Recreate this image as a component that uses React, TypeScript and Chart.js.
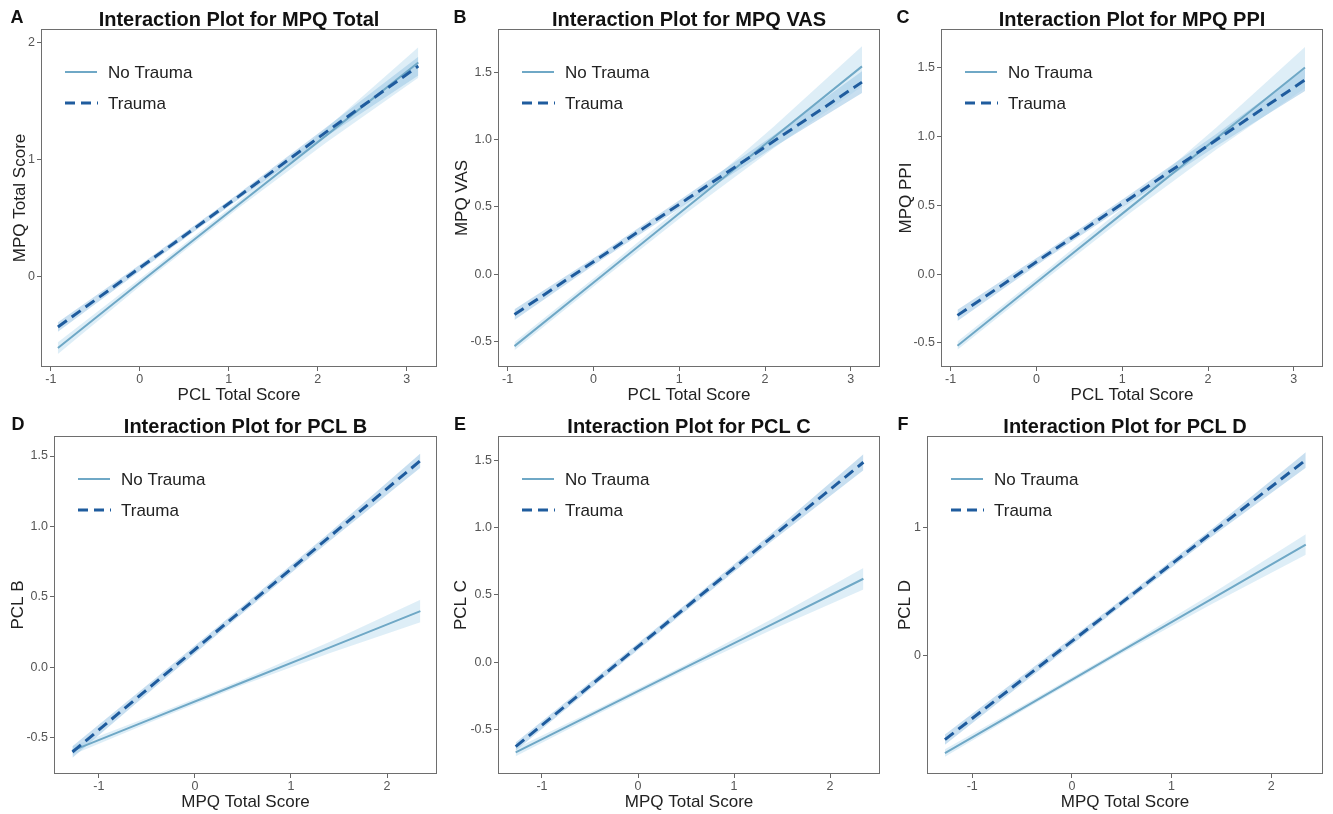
import React, { useEffect, useRef } from "react";
import { Chart, registerables } from "chart.js";

Chart.register(...registerables);

// ---------- Data ----------
// x positions where lines / confidence ribbons were read
const xsTop = [-0.92, 0.1, 1.1, 2.1, 3.13];
const xsBottom = [-1.274, -0.4, 0.5, 1.4, 2.347];

// Panel A: MPQ Total vs PCL Total Score
const ntA = [-0.61, 0.01, 0.61, 1.21, 1.83];
const ntLoA = [-0.66, -0.02, 0.58, 1.15, 1.7];
const ntHiA = [-0.56, 0.04, 0.64, 1.27, 1.96];
const tA = [-0.43, 0.13, 0.68, 1.24, 1.8];
const tLoA = [-0.47, 0.105, 0.655, 1.2, 1.72];
const tHiA = [-0.39, 0.155, 0.705, 1.28, 1.88];

// Panel B: MPQ VAS
const ntB = [-0.535, -0.011, 0.503, 1.017, 1.545];
const ntLoB = [-0.565, -0.041, 0.463, 0.937, 1.395];
const ntHiB = [-0.505, 0.019, 0.543, 1.097, 1.695];
const tB = [-0.3, 0.135, 0.562, 0.988, 1.428];
const tLoB = [-0.34, 0.11, 0.532, 0.943, 1.348];
const tHiB = [-0.26, 0.16, 0.592, 1.033, 1.508];

// Panel C: MPQ PPI
const ntC = [-0.52, -0.011, 0.488, 0.987, 1.5];
const ntLoC = [-0.55, -0.041, 0.448, 0.907, 1.35];
const ntHiC = [-0.49, 0.019, 0.528, 1.067, 1.65];
const tC = [-0.3, 0.131, 0.553, 0.975, 1.41];
const tLoC = [-0.34, 0.106, 0.523, 0.93, 1.33];
const tHiC = [-0.26, 0.156, 0.583, 1.02, 1.49];

// Panel D: PCL B vs MPQ Total Score
const ntD = [-0.59, -0.351, -0.105, 0.141, 0.4];
const ntLoD = [-0.62, -0.371, -0.125, 0.101, 0.32];
const ntHiD = [-0.56, -0.331, -0.085, 0.181, 0.48];
const tD = [-0.6, -0.101, 0.412, 0.926, 1.467];
const tLoD = [-0.64, -0.131, 0.387, 0.896, 1.417];
const tHiD = [-0.56, -0.071, 0.437, 0.956, 1.517];

// Panel E: PCL C
const ntE = [-0.669, -0.358, -0.037, 0.283, 0.62];
const ntLoE = [-0.699, -0.378, -0.057, 0.243, 0.54];
const ntHiE = [-0.639, -0.338, -0.017, 0.323, 0.7];
const tE = [-0.627, -0.117, 0.408, 0.933, 1.485];
const tLoE = [-0.657, -0.142, 0.383, 0.903, 1.425];
const tHiE = [-0.597, -0.092, 0.433, 0.963, 1.545];

// Panel F: PCL D
const ntF = [-0.763, -0.37, 0.035, 0.44, 0.867];
const ntLoF = [-0.793, -0.39, 0.015, 0.4, 0.787];
const ntHiF = [-0.733, -0.35, 0.055, 0.48, 0.947];
const tF = [-0.658, -0.13, 0.413, 0.957, 1.528];
const tLoF = [-0.698, -0.16, 0.388, 0.927, 1.468];
const tHiF = [-0.618, -0.1, 0.438, 0.987, 1.588];

// Tick values and labels
const xTicksTop = [-1, 0, 1, 2, 3];
const xTickLabelsTop = ["-1", "0", "1", "2", "3"];
const xTicksBottom = [-1, 0, 1, 2];
const xTickLabelsBottom = ["-1", "0", "1", "2"];
const yTicksA = [0, 1, 2];
const yTickLabelsA = ["0", "1", "2"];
const yTicksHalf = [-0.5, 0, 0.5, 1, 1.5];
const yTickLabelsHalf = ["-0.5", "0.0", "0.5", "1.0", "1.5"];
const yTicksF = [0, 1];
const yTickLabelsF = ["0", "1"];

const seriesNames = ["No Trauma", "Trauma"];

// ---------- Styling ----------
const FONT = "'Liberation Sans', Arial, Helvetica, sans-serif";
const NT_COLOR = "#6fa8c6";
const T_COLOR = "#1f5c9e";
const NT_BAND = "rgba(160, 205, 232, 0.35)";
const T_BAND = "rgba(110, 170, 215, 0.38)";

type PanelCfg = {
  letter: string;
  title: string;
  xTitle: string;
  yTitle: string;
  xs: number[];
  nt: number[];
  ntLo: number[];
  ntHi: number[];
  t: number[];
  tLo: number[];
  tHi: number[];
  xMin: number;
  xMax: number;
  yMin: number;
  yMax: number;
  xTicks: number[];
  xLabels: string[];
  yTicks: number[];
  yLabels: string[];
  left: number;
  top: number;
  w: number;
  h: number;
  pl: number;
  pr: number;
  pt: number;
  pb: number;
  letterX: number;
  yTitleX: number;
};

const panels: PanelCfg[] = [
  {
    letter: "A", title: "Interaction Plot for MPQ Total", xTitle: "PCL Total Score", yTitle: "MPQ Total Score",
    xs: xsTop, nt: ntA, ntLo: ntLoA, ntHi: ntHiA, t: tA, tLo: tLoA, tHi: tHiA,
    xMin: -1.11, xMax: 3.34, yMin: -0.772, yMax: 2.117,
    xTicks: xTicksTop, xLabels: xTickLabelsTop, yTicks: yTicksA, yLabels: yTickLabelsA,
    left: 0, top: 0, w: 444, h: 407, pl: 41, pr: 437, pt: 29, pb: 367, letterX: 17, yTitleX: 20,
  },
  {
    letter: "B", title: "Interaction Plot for MPQ VAS", xTitle: "PCL Total Score", yTitle: "MPQ VAS",
    xs: xsTop, nt: ntB, ntLo: ntLoB, ntHi: ntHiB, t: tB, tLo: tLoB, tHi: tHiB,
    xMin: -1.112, xMax: 3.34, yMin: -0.69, yMax: 1.823,
    xTicks: xTicksTop, xLabels: xTickLabelsTop, yTicks: yTicksHalf, yLabels: yTickLabelsHalf,
    left: 444, top: 0, w: 444, h: 407, pl: 54, pr: 436, pt: 29, pb: 367, letterX: 16, yTitleX: 18,
  },
  {
    letter: "C", title: "Interaction Plot for MPQ PPI", xTitle: "PCL Total Score", yTitle: "MPQ PPI",
    xs: xsTop, nt: ntC, ntLo: ntLoC, ntHi: ntHiC, t: tC, tLo: tLoC, tHi: tHiC,
    xMin: -1.112, xMax: 3.34, yMin: -0.675, yMax: 1.78,
    xTicks: xTicksTop, xLabels: xTickLabelsTop, yTicks: yTicksHalf, yLabels: yTickLabelsHalf,
    left: 888, top: 0, w: 445, h: 407, pl: 53, pr: 435, pt: 29, pb: 367, letterX: 15, yTitleX: 18,
  },
  {
    letter: "D", title: "Interaction Plot for PCL B", xTitle: "MPQ Total Score", yTitle: "PCL B",
    xs: xsBottom, nt: ntD, ntLo: ntLoD, ntHi: ntHiD, t: tD, tLo: tLoD, tHi: tHiD,
    xMin: -1.466, xMax: 2.52, yMin: -0.756, yMax: 1.642,
    xTicks: xTicksBottom, xLabels: xTickLabelsBottom, yTicks: yTicksHalf, yLabels: yTickLabelsHalf,
    left: 0, top: 407, w: 444, h: 407, pl: 54, pr: 437, pt: 29, pb: 367, letterX: 18, yTitleX: 18,
  },
  {
    letter: "E", title: "Interaction Plot for PCL C", xTitle: "MPQ Total Score", yTitle: "PCL C",
    xs: xsBottom, nt: ntE, ntLo: ntLoE, ntHi: ntHiE, t: tE, tLo: tLoE, tHi: tHiE,
    xMin: -1.458, xMax: 2.52, yMin: -0.83, yMax: 1.68,
    xTicks: xTicksBottom, xLabels: xTickLabelsBottom, yTicks: yTicksHalf, yLabels: yTickLabelsHalf,
    left: 444, top: 407, w: 444, h: 407, pl: 54, pr: 436, pt: 29, pb: 367, letterX: 16, yTitleX: 17,
  },
  {
    letter: "F", title: "Interaction Plot for PCL D", xTitle: "MPQ Total Score", yTitle: "PCL D",
    xs: xsBottom, nt: ntF, ntLo: ntLoF, ntHi: ntHiF, t: tF, tLo: tLoF, tHi: tHiF,
    xMin: -1.454, xMax: 2.52, yMin: -0.927, yMax: 1.716,
    xTicks: xTicksBottom, xLabels: xTickLabelsBottom, yTicks: yTicksF, yLabels: yTickLabelsF,
    left: 888, top: 407, w: 445, h: 407, pl: 39, pr: 435, pt: 29, pb: 367, letterX: 15, yTitleX: 17,
  },
];

const pts = (xs: number[], ys: number[]) => xs.map((x, i) => ({ x, y: ys[i] }));

function Panel({ cfg }: { cfg: PanelCfg }) {
  const ref = useRef<HTMLCanvasElement | null>(null);

  useEffect(() => {
    const canvas = ref.current;
    if (!canvas) return;

    const decor = {
      id: "decor",
      afterDraw(chart: any) {
        const { ctx, chartArea } = chart;
        const { left, right, top, bottom } = chartArea;
        ctx.save();
        // panel border
        ctx.strokeStyle = "#6e6e6e";
        ctx.lineWidth = 1;
        ctx.strokeRect(left + 0.5, top + 0.5, right - left - 1, bottom - top - 1);

        // panel letter
        ctx.fillStyle = "#111";
        ctx.textBaseline = "middle";
        ctx.textAlign = "center";
        ctx.font = `bold 18px ${FONT}`;
        ctx.fillText(cfg.letter, cfg.letterX, 18);

        // title
        ctx.font = `bold 20px ${FONT}`;
        ctx.fillText(cfg.title, (left + right) / 2, 20);

        // x-axis title
        ctx.font = `17px ${FONT}`;
        ctx.fillStyle = "#222";
        ctx.fillText(cfg.xTitle, (left + right) / 2, 395);

        // y-axis title
        ctx.save();
        ctx.translate(cfg.yTitleX, (top + bottom) / 2);
        ctx.rotate(-Math.PI / 2);
        ctx.fillText(cfg.yTitle, 0, 0);
        ctx.restore();

        // legend
        const lx = left + 24;
        const ly1 = top + 43;
        const ly2 = top + 74;
        ctx.lineCap = "butt";
        ctx.strokeStyle = NT_COLOR;
        ctx.lineWidth = 2;
        ctx.setLineDash([]);
        ctx.beginPath();
        ctx.moveTo(lx, ly1);
        ctx.lineTo(lx + 32, ly1);
        ctx.stroke();
        ctx.strokeStyle = T_COLOR;
        ctx.lineWidth = 3;
        ctx.setLineDash([10, 6]);
        ctx.beginPath();
        ctx.moveTo(lx, ly2);
        ctx.lineTo(lx + 33, ly2);
        ctx.stroke();
        ctx.setLineDash([]);
        ctx.textAlign = "left";
        ctx.fillStyle = "#222";
        ctx.font = `17px ${FONT}`;
        ctx.fillText(seriesNames[0], left + 67, ly1 + 1);
        ctx.fillText(seriesNames[1], left + 67, ly2 + 1);
        ctx.restore();
      },
    };

    const chart = new Chart(canvas, {
      type: "line",
      data: {
        datasets: [
          {
            label: seriesNames[1],
            data: pts(cfg.xs, cfg.t),
            borderColor: T_COLOR,
            borderWidth: 3,
            borderDash: [11, 6],
            pointRadius: 0,
            fill: false,
          },
          {
            label: seriesNames[0],
            data: pts(cfg.xs, cfg.nt),
            borderColor: NT_COLOR,
            borderWidth: 2,
            pointRadius: 0,
            fill: false,
          },
          {
            label: "No Trauma upper",
            data: pts(cfg.xs, cfg.ntHi),
            borderWidth: 0,
            borderColor: "rgba(0,0,0,0)",
            backgroundColor: NT_BAND,
            pointRadius: 0,
            fill: "+1",
          },
          {
            label: "No Trauma lower",
            data: pts(cfg.xs, cfg.ntLo),
            borderWidth: 0,
            borderColor: "rgba(0,0,0,0)",
            pointRadius: 0,
            fill: false,
          },
          {
            label: "Trauma upper",
            data: pts(cfg.xs, cfg.tHi),
            borderWidth: 0,
            borderColor: "rgba(0,0,0,0)",
            backgroundColor: T_BAND,
            pointRadius: 0,
            fill: "+1",
          },
          {
            label: "Trauma lower",
            data: pts(cfg.xs, cfg.tLo),
            borderWidth: 0,
            borderColor: "rgba(0,0,0,0)",
            pointRadius: 0,
            fill: false,
          },
        ],
      },
      options: {
        responsive: false,
        animation: false,
        events: [],
        layout: { padding: { left: 0, top: cfg.pt, right: cfg.w - cfg.pr, bottom: 0 } },
        plugins: {
          legend: { display: false },
          title: { display: false },
          tooltip: { enabled: false },
        },
        scales: {
          x: {
            type: "linear",
            min: cfg.xMin,
            max: cfg.xMax,
            afterBuildTicks: (s: any) => {
              s.ticks = cfg.xTicks.map((v) => ({ value: v }));
            },
            afterFit: (s: any) => {
              s.height = cfg.h - cfg.pb;
            },
            border: { display: false },
            grid: { drawOnChartArea: false, drawTicks: true, tickLength: 4, color: "#666" },
            ticks: {
              color: "#555",
              font: { family: FONT, size: 12.5 },
              padding: 1,
              maxRotation: 0,
              callback: (v: any) => {
                const i = cfg.xTicks.indexOf(Number(v));
                return i >= 0 ? cfg.xLabels[i] : "";
              },
            },
          },
          y: {
            type: "linear",
            min: cfg.yMin,
            max: cfg.yMax,
            afterBuildTicks: (s: any) => {
              s.ticks = cfg.yTicks.map((v) => ({ value: v }));
            },
            afterFit: (s: any) => {
              s.width = cfg.pl;
            },
            border: { display: false },
            grid: { drawOnChartArea: false, drawTicks: true, tickLength: 4, color: "#666" },
            ticks: {
              color: "#555",
              font: { family: FONT, size: 12.5 },
              padding: 2,
              callback: (v: any) => {
                const i = cfg.yTicks.indexOf(Number(v));
                return i >= 0 ? cfg.yLabels[i] : "";
              },
            },
          },
        },
      },
      plugins: [decor],
    } as any);

    return () => chart.destroy();
  }, [cfg]);

  return (
    <canvas
      ref={ref}
      width={cfg.w}
      height={cfg.h}
      style={{ position: "absolute", left: cfg.left, top: cfg.top, width: cfg.w, height: cfg.h }}
    />
  );
}

export default function App() {
  return (
    <div style={{ position: "absolute", left: 0, top: 0, width: 1333, height: 814, background: "#fff" }}>
      {panels.map((p) => (
        <Panel key={p.letter} cfg={p} />
      ))}
    </div>
  );
}
